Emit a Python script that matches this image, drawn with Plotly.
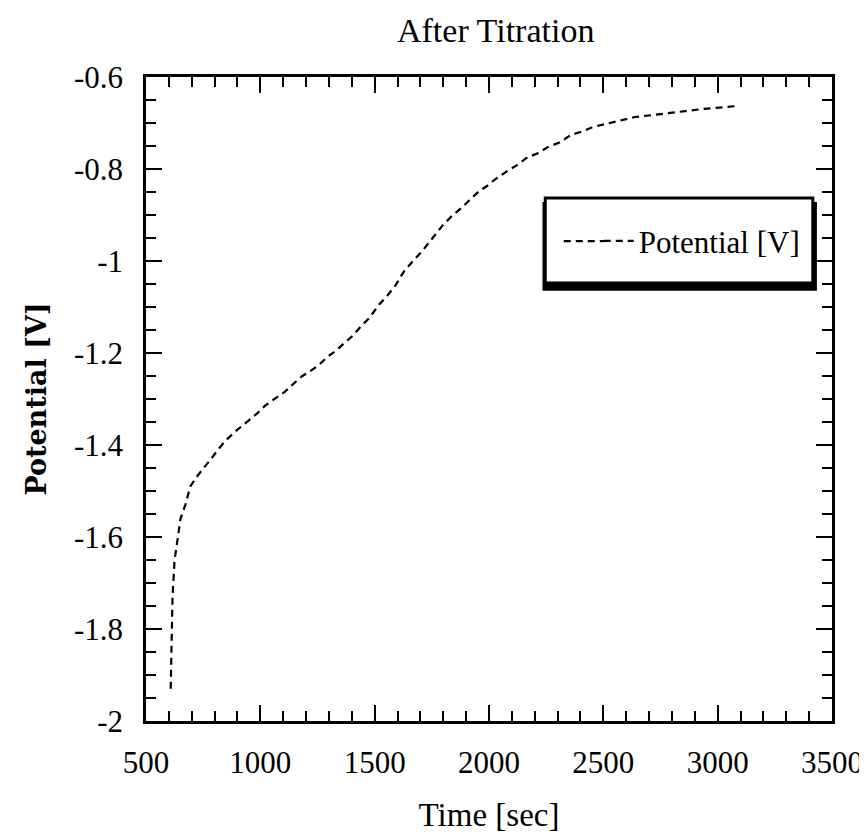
import plotly.graph_objects as go

# Data
time_sec = [608, 612, 616, 625, 638, 651, 672, 694, 720, 754, 785, 815, 849, 892,
            944, 987, 1022, 1065, 1108, 1138, 1181, 1216, 1254, 1297, 1328, 1366,
            1405, 1440, 1478, 1517, 1556, 1591, 1629, 1668, 1707, 1763, 1798, 1836,
            1879, 1914, 1957, 1991, 2034, 2078, 2121, 2164, 2216, 2259, 2310, 2358,
            2410, 2453, 2509, 2569, 2638, 2711, 2784, 2860, 2927, 3005, 3086]
potential_v = [-1.93, -1.82, -1.73, -1.65, -1.61, -1.56, -1.53, -1.49, -1.47, -1.45,
               -1.43, -1.41, -1.39, -1.37, -1.349, -1.331, -1.314, -1.299, -1.284,
               -1.270, -1.251, -1.240, -1.227, -1.207, -1.196, -1.179, -1.162, -1.142,
               -1.123, -1.096, -1.075, -1.053, -1.022, -1.0, -0.979, -0.944, -0.922,
               -0.903, -0.885, -0.868, -0.848, -0.837, -0.82, -0.805, -0.792, -0.776,
               -0.765, -0.752, -0.742, -0.726, -0.718, -0.709, -0.702, -0.696, -0.687,
               -0.683, -0.678, -0.674, -0.670, -0.666, -0.663]

x_ticks = [500, 1000, 1500, 2000, 2500, 3000, 3500]
x_tick_labels = ["500", "1000", "1500", "2000", "2500", "3000", "3500"]
y_ticks = [-2, -1.8, -1.6, -1.4, -1.2, -1, -0.8, -0.6]
y_tick_labels = ["-2", "-1.8", "-1.6", "-1.4", "-1.2", "-1", "-0.8", "-0.6"]

SERIF = "Liberation Serif"

fig = go.Figure()
fig.add_trace(go.Scatter(
    x=time_sec, y=potential_v, mode="lines", name="Potential [V]",
    line=dict(color="black", width=2.2, dash="7px,5px"),
))

axis_common = dict(
    showline=True, linecolor="black", linewidth=2.5, mirror="allticks",
    ticks="inside", ticklen=16, tickwidth=2, tickcolor="black",
    showgrid=False, zeroline=False, ticklabeloverflow="allow",
    tickfont=dict(family=SERIF, size=31, color="black"),
)

fig.update_layout(
    width=867, height=834,
    margin=dict(l=138, r=31, t=69, b=121),
    paper_bgcolor="white", plot_bgcolor="white",
    title=dict(text="After Titration", x=0.5625, xanchor="center", y=0.988, yanchor="top",
               font=dict(family=SERIF, size=34, color="black")),
    xaxis=dict(range=[500, 3500], tickvals=x_ticks, ticktext=x_tick_labels,
               minor=dict(ticks="inside", ticklen=10, tickwidth=2, tickcolor="black",
                          dtick=100, showgrid=False),
               ticklabelstandoff=12,
               title=dict(text="Time [sec]", standoff=24,
                          font=dict(family=SERIF, size=33, color="black")),
               **axis_common),
    yaxis=dict(range=[-2, -0.6], tickvals=y_ticks, ticktext=y_tick_labels,
               minor=dict(ticks="inside", ticklen=10, tickwidth=2, tickcolor="black",
                          dtick=0.05, tick0=-2, showgrid=False),
               ticklabelstandoff=14,
               title=dict(text="<b>Potential [V]</b>", standoff=20,
                          font=dict(family="DejaVu Serif", size=27, color="black")),
               **axis_common),
    showlegend=True,
    legend=dict(x=0.66, y=0.745, xanchor="left", yanchor="middle",
                bgcolor="rgba(0,0,0,0)", borderwidth=0,
                font=dict(family=SERIF, size=31, color="black"),
                itemwidth=30),
)

# legend frame with drop shadow (decoration)
fig.add_shape(type="rect", xref="paper", yref="paper",
              x0=0.578, x1=0.978, y0=0.668, y1=0.806,
              fillcolor="black", line=dict(width=0), layer="above")
fig.add_shape(type="rect", xref="paper", yref="paper",
              x0=0.582, x1=0.972, y0=0.680, y1=0.812,
              fillcolor="white", line=dict(color="black", width=3), layer="above")
# longer legend sample line, as in the reference legend
fig.add_shape(type="line", xref="paper", yref="paper",
              x0=0.609, x1=0.668, y0=0.745, y1=0.745,
              line=dict(color="black", width=2.2, dash="7px,5px"), layer="above")

fig.write_html("out.html")
